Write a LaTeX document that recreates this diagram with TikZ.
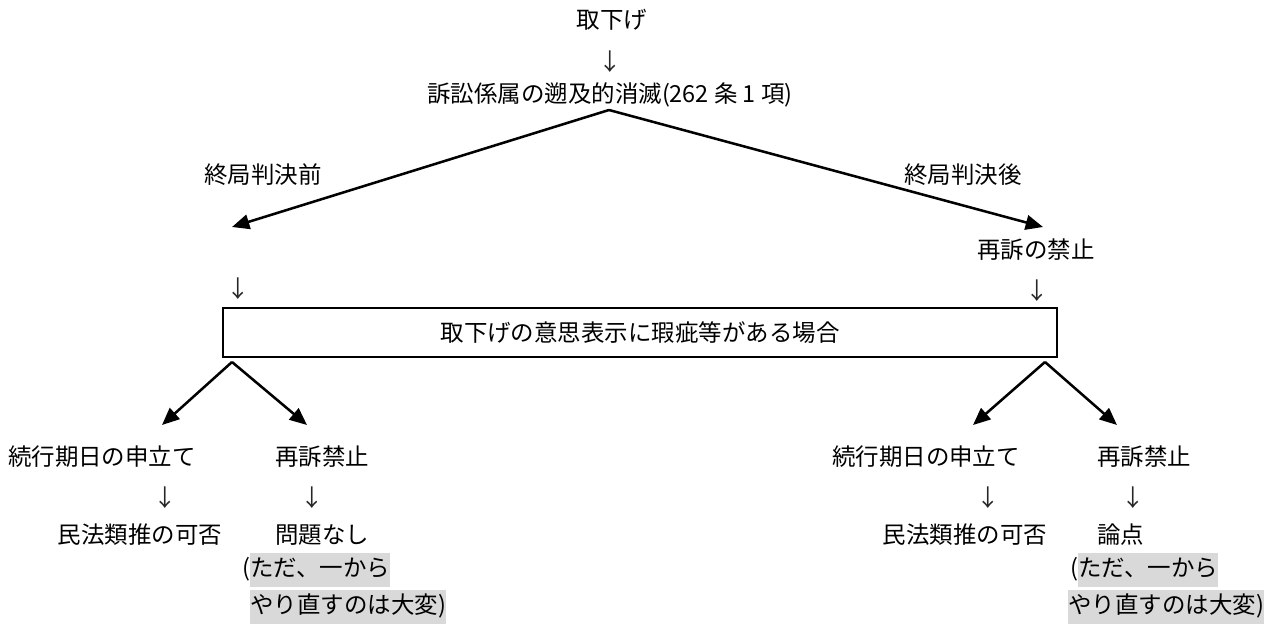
\documentclass[tikz,border=0pt]{standalone}
\usepackage{fontspec}
\setmainfont{Noto Sans CJK JP}
\usetikzlibrary{arrows.meta}
\definecolor{hlgray}{HTML}{D9D9D9}
\newcommand\hlt[1]{{\setlength\fboxsep{0pt}\colorbox{hlgray}{\rule[-8pt]{0pt}{25.5pt}#1}}}
\begin{document}
\begin{tikzpicture}[x=0.75pt,y=-0.75pt,
  lbl/.style={inner sep=0pt,font=\fontsize{17.6pt}{20pt}\selectfont},
  dn/.style={inner sep=0pt,font=\fontsize{17.6pt}{20pt}\selectfont\color{black!85}},
  arr/.style={line width=1.9pt,-{Triangle[length=13pt,width=11pt]}},
  box/.style={draw,line width=2pt,minimum width=625.5pt,minimum height=36.75pt,inner sep=0pt,font=\fontsize{17.6pt}{20pt}\selectfont}]
\useasboundingbox (0,0) rectangle (1283,625);
% top
\node[lbl] (t1) at (612,20) {取下げ};
\node[dn] (a1) at (610,62) {↓};
\node[lbl] (t2) at (610,95) {訴訟係属の遡及的消滅(262 条 1 項)};
\coordinate (apex) at (609,110);
\coordinate (tipL) at (232,227);
\coordinate (tipR) at (1043,227);
\draw[arr] (apex) -- (tipL);
\draw[arr] (apex) -- (tipR);
\node[lbl] (pre) at (263,175) {終局判決前};
\node[lbl] (post) at (963,175) {終局判決後};
\node[lbl] (kinshi) at (1036,250) {再訴の禁止};
\node[dn] (aL) at (238,289) {↓};
\node[dn] (aR) at (1037,291) {↓};
% box
\node[box] (bx) at (640,332.5) {取下げの意思表示に瑕疵等がある場合};
\coordinate (apL) at (232,362);
\coordinate (apR) at (1045,362);
\coordinate (tLL) at (162,425);
\coordinate (tLR) at (307,425);
\coordinate (tRL) at (973,425);
\coordinate (tRR) at (1117,425);
\draw[arr] (apL) -- (tLL);
\draw[arr] (apL) -- (tLR);
\draw[arr] (apR) -- (tRL);
\draw[arr] (apR) -- (tRR);
% left bottom
\node[lbl] (zL) at (102,457) {続行期日の申立て};
\node[lbl,anchor=west] (sL) at (275,457) {再訴禁止};
\node[dn] (d1) at (165,498) {↓};
\node[dn] (d2) at (312,498) {↓};
\node[lbl] (mL) at (140,535) {民法類推の可否};
\node[lbl,anchor=west] (mon) at (275,535) {問題なし};
\node[lbl,anchor=west] (h1L) at (242,570) {(\hlt{ただ、一から}};
\node[lbl,anchor=west] (h2L) at (250,607) {\hlt{やり直すのは大変)}};
% right bottom
\node[lbl] (zR) at (926,457) {続行期日の申立て};
\node[lbl,anchor=west] (sR) at (1097,457) {再訴禁止};
\node[dn] (d3) at (988,498) {↓};
\node[dn] (d4) at (1133,498) {↓};
\node[lbl] (mR) at (965,535) {民法類推の可否};
\node[lbl,anchor=west] (ron) at (1097,535) {論点};
\node[lbl,anchor=west] (h1R) at (1070,570) {(\hlt{ただ、一から}};
\node[lbl,anchor=west] (h2R) at (1068,607) {\hlt{やり直すのは大変)}};
\end{tikzpicture}
\end{document}
